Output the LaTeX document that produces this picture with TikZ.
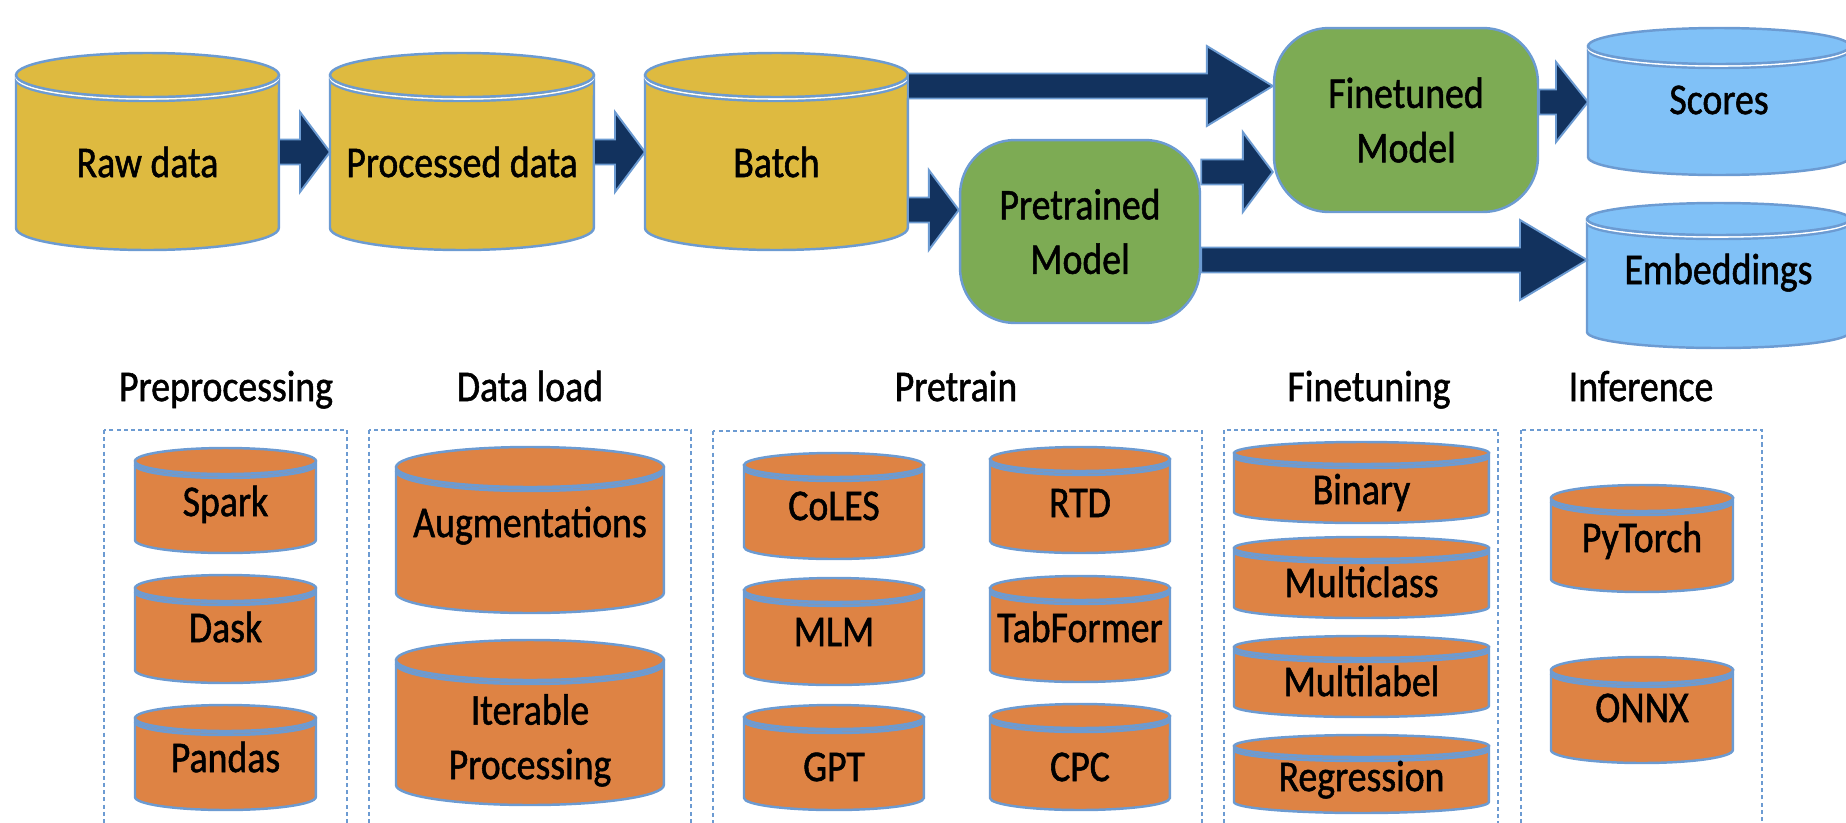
\documentclass[tikz,border=0pt]{standalone}
\usepackage{fontspec}
\setmainfont[FakeStretch=0.86, FakeBold=1.2]{Carlito}
\usetikzlibrary{calc}
\definecolor{drumgold}{HTML}{DEBA40}
\definecolor{drumorange}{HTML}{DE8344}
\definecolor{drumblue}{HTML}{80C1F7}
\definecolor{modelgreen}{HTML}{7DAB54}
\definecolor{arrownavy}{HTML}{12325E}
\definecolor{edgeblue}{HTML}{6C9BD2}
\tikzstyle{drum}=[draw=edgeblue, line width=1.4pt]
\tikzstyle{drumbody}=[rectangle, draw=none, inner sep=0pt, outer sep=0pt]
\tikzstyle{golddrum}=[fill=drumgold]
\tikzstyle{golddrum rim}=[draw=white]
\tikzstyle{bluedrum}=[fill=drumblue]
\tikzstyle{bluedrum rim}=[draw=white]
\tikzstyle{orangedrum}=[fill=drumorange]
\tikzstyle{orangedrum rim}=[draw=edgeblue]
\tikzstyle{annot}=[font=\fontsize{25}{31}\selectfont, align=center, inner sep=0pt, text height=16pt, text depth=0pt]
\tikzstyle{model}=[annot, rectangle, rounded corners=1.1cm, fill=modelgreen, draw=edgeblue, line width=1.4pt, text height=, text depth=]
\tikzstyle{fat}=[fill=arrownavy, draw=edgeblue, line width=1.1pt]
\tikzstyle{frame}=[draw=edgeblue, line width=1.3pt, dash pattern=on 2.3pt off 1.8pt]
% name, style, left, right, top, bottom, rim height, text y (last line), text
\newcommand{\drum}[9]
{
	\node[drumbody, minimum width={(#4-#3)*0.02cm}, minimum height={(#6-#5-2*#7)*0.02cm}](#1) at ({(#3+#4)/2},{-(#5+#6)/2}){};
	\draw[drum, #2] (#1.north west) -- (#1.south west) arc[start angle=180, end angle=360, x radius={(#4-#3)*0.01cm}, y radius={#7*0.02cm}] -- (#1.north east) -- cycle;
	\draw[drum] ([yshift=-0.08cm]#1.north west) arc[start angle=180, end angle=360, x radius={(#4-#3)*0.01cm}, y radius={#7*0.02cm}];
	\draw[drum, #2 rim, line width=0.9pt] ([yshift=-0.04cm]#1.north west) arc[start angle=180, end angle=360, x radius={(#4-#3)*0.01cm}, y radius={#7*0.02cm}];
	\draw[drum, #2] (#1.north) ellipse[x radius={(#4-#3)*0.01cm}, y radius={#7*0.02cm}];
	\node[annot](#1-txt) at ({(#3+#4)/2},-#8){#9};
}
% from, to, y, head length
\newcommand{\fatarrow}[4]
{
	\path[fat] let \p1=(#1.east), \p2=(#2.west), \p3=(0,-#3) in
		(\x1,\y3+0.25cm) -- (\x2-#4,\y3+0.25cm) -- (\x2-#4,\y3+0.8cm) -- (\x2,\y3)
		-- (\x2-#4,\y3-0.8cm) -- (\x2-#4,\y3-0.25cm) -- (\x1,\y3-0.25cm) -- cycle;
}
\begin{document}
\begin{tikzpicture}[x=0.02cm, y=0.02cm]
	\useasboundingbox (0,0) rectangle (1846,-822);
	\clip (0,0) rectangle (1846,-822);

	% pipeline
	\drum{raw}{golddrum}{16}{279}{53}{250}{22}{163}{Raw data}
	\drum{proc}{golddrum}{330}{594}{53}{250}{22}{163}{Processed data}
	\drum{batch}{golddrum}{645}{908}{53}{250}{22}{163}{Batch}
	\node[model, minimum width=4.8cm, minimum height=3.66cm](pre) at (1080,-231.5){Pretrained\\Model};
	\node[model, minimum width=5.28cm, minimum height=3.68cm](fine) at (1406,-120){Finetuned\\Model};
	\drum{scores}{bluedrum}{1588}{1850}{28}{175}{18}{100}{Scores}
	\drum{emb}{bluedrum}{1587}{1850}{203}{348}{16}{270}{Embeddings}

	\fatarrow{raw}{proc}{152}{0.6cm}
	\fatarrow{proc}{batch}{152}{0.6cm}
	\fatarrow{batch}{fine}{86}{1.32cm}
	\fatarrow{batch}{pre}{210}{0.6cm}
	\fatarrow{pre}{fine}{172}{0.6cm}
	\fatarrow{fine}{scores}{102}{0.64cm}
	\fatarrow{pre}{emb}{260}{1.34cm}

	% stages
	\node[annot](prep) at (226,-387){Preprocessing};
	\node[annot](load) at (530,-387){Data load};
	\node[annot](pretrain) at (956,-387){Pretrain};
	\node[annot](finetune) at (1369,-387){Finetuning};
	\node[annot](infer) at (1641,-387){Inference};
	\draw[frame] (104,-430) rectangle (347,-840);
	\draw[frame] (369,-430) rectangle (691,-840);
	\draw[frame] (713,-431) rectangle (1202,-840);
	\draw[frame] (1224,-430) rectangle (1498,-840);
	\draw[frame] (1521,-430) rectangle (1762,-840);

	\drum{spark}{orangedrum}{135}{316}{448}{553}{13}{502}{Spark}
	\drum{dask}{orangedrum}{135}{316}{575}{683}{13}{628}{Dask}
	\drum{pandas}{orangedrum}{135}{316}{705}{810}{13}{758}{Pandas}
	\drum{aug}{orangedrum}{396}{664}{447}{613}{20}{523}{Augmentations}
	\drum{iter}{orangedrum}{396}{664}{640}{805}{20}{765}{Iterable\\Processing}
	\drum{coles}{orangedrum}{744}{924}{453}{559}{12}{506}{CoLES}
	\drum{mlm}{orangedrum}{744}{924}{578}{685}{12}{632}{MLM}
	\drum{gpt}{orangedrum}{744}{924}{705}{810}{12}{767}{GPT}
	\drum{rtd}{orangedrum}{990}{1170}{447}{553}{12}{503}{RTD}
	\drum{tabformer}{orangedrum}{990}{1170}{576}{682}{12}{628}{TabFormer}
	\drum{cpc}{orangedrum}{990}{1170}{704}{810}{12}{767}{CPC}
	\drum{binary}{orangedrum}{1234}{1489}{442}{523}{11}{490}{Binary}
	\drum{multiclass}{orangedrum}{1234}{1489}{537}{618}{11}{583}{Multiclass}
	\drum{multilabel}{orangedrum}{1234}{1489}{636}{717}{11}{682}{Multilabel}
	\drum{regression}{orangedrum}{1234}{1489}{735}{813}{11}{777}{Regression}
	\drum{pytorch}{orangedrum}{1551}{1733}{485}{592}{13}{538}{PyTorch}
	\drum{onnx}{orangedrum}{1551}{1733}{657}{763}{13}{708}{ONNX}

\end{tikzpicture}
\end{document}
